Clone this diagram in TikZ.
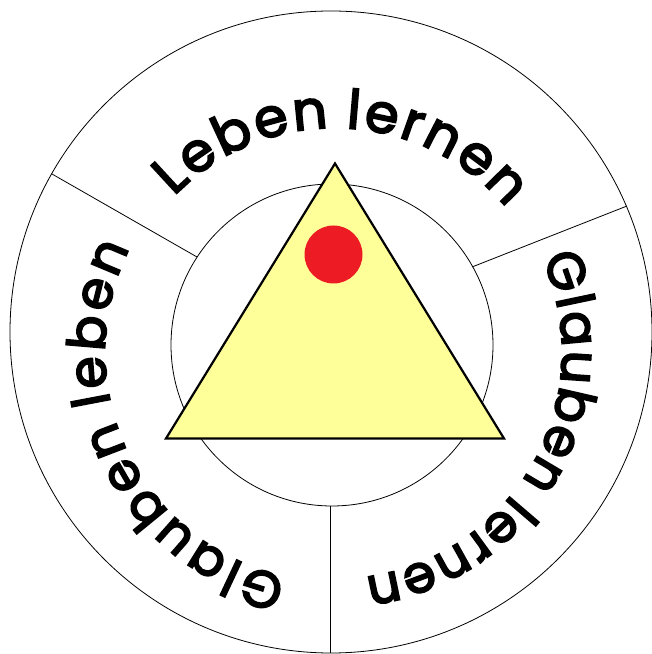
\documentclass[tikz,border=0pt]{standalone}
\usepackage{fontspec}
\setmainfont{Poppins}[FakeBold=3.5]
\usetikzlibrary{decorations.text,calc}
\definecolor{triyellow}{HTML}{FFFF99}
\definecolor{dotred}{HTML}{ED1C24}
\newcommand\lsp{\kern3pt}
\newcommand\lsr{\kern2pt}
\newcommand\lsl{\kern3.5pt}
\begin{document}
\begin{tikzpicture}[x=1pt,y=1pt,
  thinline/.style={line width=0.8pt},
  tribox/.style={line width=2.2pt, fill=triyellow, line join=miter}]
\useasboundingbox (0,0) rectangle (652,654);
\coordinate (O) at (331,322);
\coordinate (I) at (332,309);
\coordinate (T) at (335,302);
\draw[thinline] (O) circle[radius=321];
\draw[thinline] (I) circle[radius=161];
\coordinate (d1o) at (52,480);  \coordinate (d1i) at (197,397);
\coordinate (d2o) at (627,448); \coordinate (d2i) at (472,387);
\coordinate (d3o) at (330,1);   \coordinate (d3i) at (330,148);
\draw[thinline] (d1o) -- (d1i);
\draw[thinline] (d2o) -- (d2i);
\draw[thinline] (d3o) -- (d3i);
\coordinate (A) at (335,490.5);
\coordinate (B) at (166,215.5);
\coordinate (C) at (504,215.5);
\draw[tribox] (A) -- (B) -- (C) -- cycle;
\node[circle, fill=dotred, minimum size=58pt, inner sep=0pt] (dot) at (333.5,399.5) {};
\path[decorate, decoration={text along path, text align=center,
  text={|\fontsize{54}{60}\selectfont|{L\lsp}{e\lsp}{b\lsp}{e\lsp}{n\lsp} {l\lsp}{e\lsp}{r\lsp}{n\lsp}{e\lsp}{n}}}]
  ($(T)+(148:224)$) arc[start angle=148, end angle=28, radius=224];
\path[decorate, decoration={text along path, text align=center,
  text={|\fontsize{52}{60}\selectfont|{G\lsr}{l\lsr}{a\lsr}{u\lsr}{b\lsr}{e\lsr}{n\lsr} {l\lsr}{e\lsr}{r\lsr}{n\lsr}{e\lsr}{n}}}]
  ($(T)+(31:227)$) arc[start angle=31, end angle=-89, radius=227];
\path[decorate, decoration={text along path, text align=center,
  text={|\fontsize{52}{60}\selectfont|{G\lsl}{l\lsl}{a\lsl}{u\lsl}{b\lsl}{e\lsl}{n\lsl} {l\lsl}{e\lsl}{b\lsl}{e\lsl}{n}}}]
  ($(T)+(265.5:230)$) arc[start angle=265.5, end angle=145.5, radius=230];
\end{tikzpicture}
\end{document}
